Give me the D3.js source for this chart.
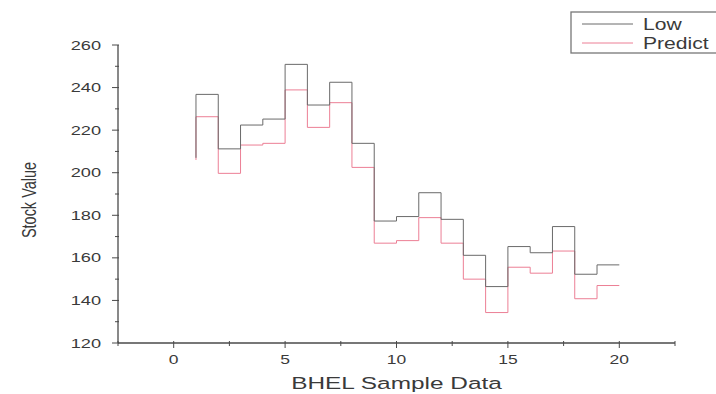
<!DOCTYPE html>
<html>
<head>
<meta charset="utf-8">
<script src="https://cdn.jsdelivr.net/npm/d3@7"></script>
<style>
  body { margin: 0; background: #fff; }
  text { font-family: "Liberation Sans", Arial, sans-serif; fill: #3a3a3a; }
</style>
</head>
<body>
<svg id="main" width="716" height="394"></svg>
<script>
const width = 716;
const height = 394;

// sample index (x) and the two series
const samples = [1, 2, 3, 4, 5, 6, 7, 8, 9, 10, 11, 12, 13, 14, 15, 16, 17, 18, 19, 20];
const low = [207, 236.8, 211.2, 222.4, 225.2, 250.9, 231.8, 242.5, 213.8, 177.3,
             179.4, 190.6, 178.1, 161.2, 146.5, 165.3, 162.4, 174.7, 152.3, 156.7];
const predict = [206, 226.3, 199.7, 213, 213.8, 238.9, 221.3, 232.9, 202.5, 166.9,
                 168.1, 178.9, 166.9, 150, 134.3, 155.6, 152.8, 163.2, 140.8, 147];

const xMajor = [0, 5, 10, 15, 20];
const xMinor = [-2.5, 2.5, 7.5, 12.5, 17.5, 22.5];
const yMajor = [120, 140, 160, 180, 200, 220, 240, 260];
const yMinor = [130, 150, 170, 190, 210, 230, 250];
const seriesNames = ['Low', 'Predict'];

const position = { left: 118, top: 45, right: 41, bottom: 51 };
const innerWidth = width - position.left - position.right;
const innerHeight = height - position.top - position.bottom;

const svg = d3.select('#main');
const g = svg.append('g')
    .attr('transform', `translate(${position.left}, ${position.top})`);

const x = d3.scaleLinear().domain([-2.5, 22.5]).range([0, innerWidth]);
const y = d3.scaleLinear().domain([120, 260]).range([innerHeight, 0]);

const axisColor = '#4a4a4a';
// the original picture is stretched sideways, so text is widened too
const stretch = 1.4;

// x axis
const xAxis = g.append('g').attr('transform', `translate(0, ${innerHeight})`);
xAxis.append('line')
    .attr('x1', 0).attr('x2', innerWidth)
    .attr('stroke', axisColor).attr('stroke-width', 1.3);
xAxis.selectAll('.xmaj').data(xMajor).join('line')
    .attr('class', 'xmaj')
    .attr('x1', d => x(d)).attr('x2', d => x(d))
    .attr('y1', -2).attr('y2', 5)
    .attr('stroke', axisColor);
xAxis.selectAll('.xmin').data(xMinor).join('line')
    .attr('class', 'xmin')
    .attr('x1', d => x(d)).attr('x2', d => x(d))
    .attr('y1', -2).attr('y2', 3)
    .attr('stroke', axisColor);
xAxis.selectAll('text').data(xMajor).join('text')
    .attr('transform', d => `translate(${x(d)}, 21) scale(${stretch}, 1)`)
    .attr('text-anchor', 'middle')
    .attr('font-size', 12.5)
    .text(d => d);

// y axis
const yAxis = g.append('g');
yAxis.append('line')
    .attr('y1', 0).attr('y2', innerHeight)
    .attr('stroke', axisColor).attr('stroke-width', 1.3);
yAxis.selectAll('.ymaj').data(yMajor).join('line')
    .attr('class', 'ymaj')
    .attr('y1', d => y(d)).attr('y2', d => y(d))
    .attr('x1', -6).attr('x2', 1)
    .attr('stroke', axisColor);
yAxis.selectAll('.ymin').data(yMinor).join('line')
    .attr('class', 'ymin')
    .attr('y1', d => y(d)).attr('y2', d => y(d))
    .attr('x1', -3).attr('x2', 1)
    .attr('stroke', axisColor);
yAxis.selectAll('text').data(yMajor).join('text')
    .attr('transform', d => `translate(-17, ${y(d)}) scale(${stretch}, 1)`)
    .attr('dy', '0.35em')
    .attr('text-anchor', 'end')
    .attr('font-size', 13)
    .text(d => d);

// axis titles
svg.append('text')
    .attr('transform', `translate(36, ${position.top + innerHeight / 2 + 6}) scale(${stretch}, 1) rotate(-90)`)
    .attr('text-anchor', 'middle')
    .attr('font-size', 14.5)
    .text('Stock Value');
svg.append('text')
    .attr('transform', `translate(${position.left + x(10)}, 389) scale(1.48, 1)`)
    .attr('text-anchor', 'middle')
    .attr('font-size', 16.5)
    .text('BHEL Sample Data');

// step lines (vertical step first, then horizontal)
const line = d3.line()
    .x(d => x(d[0]))
    .y(d => y(d[1]))
    .curve(d3.curveStepBefore);

const colors = ['#6a6a6a', '#ec7f95'];
g.append('path')
    .datum(samples.map((s, i) => [s, predict[i]]))
    .attr('d', line)
    .attr('fill', 'none')
    .attr('stroke', colors[1])
    .attr('stroke-width', 1);
g.append('path')
    .datum(samples.map((s, i) => [s, low[i]]))
    .attr('d', line)
    .attr('fill', 'none')
    .attr('stroke', colors[0])
    .attr('stroke-width', 1);

// legend (box runs off the right edge)
const legend = svg.append('g');
legend.append('rect')
    .attr('x', 571).attr('y', 12)
    .attr('width', 160).attr('height', 41)
    .attr('fill', '#fff')
    .attr('stroke', '#777')
    .attr('stroke-width', 1.3);
const legendItems = legend.selectAll('.item').data(seriesNames).join('g')
    .attr('class', 'item')
    .attr('transform', (d, i) => `translate(0, ${24 + i * 19})`);
legendItems.append('line')
    .attr('x1', 582).attr('x2', 633)
    .attr('stroke', (d, i) => colors[i]);
legendItems.append('text')
    .attr('transform', `translate(643, 6) scale(1.32, 1)`)
    .attr('font-size', 16)
    .text(d => d);
</script>
</body>
</html>
